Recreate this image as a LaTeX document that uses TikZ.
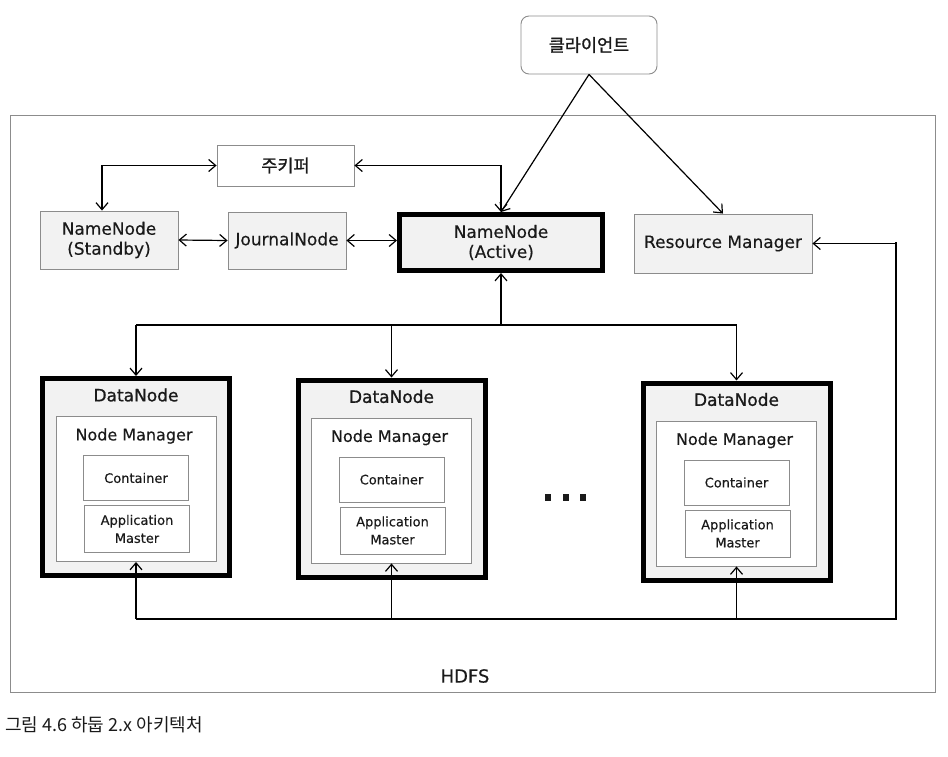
\documentclass[tikz,border=0pt]{standalone}
\usepackage{fontspec}
\setmainfont{DejaVu Sans}[FakeBold=0.3]
\newfontfamily\krfont{Noto Sans CJK KR}
\newfontfamily\krboldfont{Noto Sans CJK KR}[FakeBold=1.2]
\newfontfamily\titlefont{DejaVu Sans}[FakeBold=1.0]
\usetikzlibrary{arrows.meta}
\definecolor{boxline}{HTML}{8C8C8C}
\definecolor{boxfill}{HTML}{F2F2F2}
\definecolor{ink}{HTML}{1A1A1A}
\tikzset{
  basebox/.style={draw=boxline, line width=0.9pt, inner sep=0pt, align=center, text=ink},
  greybox/.style={basebox, fill=boxfill, font=\fontsize{17}{20}\selectfont},
  whitebox/.style={basebox, fill=white},
  heavybox/.style={draw=black, line width=5pt, fill=boxfill, inner sep=0pt, align=center, text=ink, font=\fontsize{17}{20}\selectfont},
  krtext/.style={font=\krboldfont\fontsize{17.5}{20}\selectfont},
  conn/.style={draw=black, line width=1.2pt},
  arr/.style={conn, -{Straight Barb[length=7pt,width=12pt]}},
  barr/.style={conn, {Straight Barb[length=7pt,width=12pt]}-{Straight Barb[length=7pt,width=12pt]}},
  label/.style={inner sep=0pt, text=ink},
  datanode/.pic={
    \node[heavybox, minimum width=187, minimum height=197] (-box) at (0,0) {};
    \node[label, font=\titlefont\fontsize{17}{20}\selectfont] (-title) at (0,-82) {DataNode};
    \node[whitebox, minimum width=160, minimum height=145] (-nm) at (0,12) {};
    \node[label, font=\fontsize{16}{19}\selectfont] (-nmtext) at (-2,-41) {Node Manager};
    \node[whitebox, minimum width=105, minimum height=45, font=\fontsize{13}{16}\selectfont] (-cont) at (0,1) {Container};
    \node[whitebox, minimum width=105, minimum height=47, font=\fontsize{13}{18}\selectfont] (-am) at (1,52) {Application\\Master};
  }
}
\begin{document}
\begin{tikzpicture}[x=1pt, y=-1pt]
\useasboundingbox (0,0) rectangle (948,756);

% HDFS frame
\node[draw=boxline, line width=1pt, minimum width=925, minimum height=577, inner sep=0pt] (hdfs) at (472.5,403.5) {};
\node[label, font=\fontsize{18}{20}\selectfont] (hdfslabel) at (465,676) {HDFS};

% top nodes
\node[whitebox, rounded corners=8pt, minimum width=136, minimum height=58, krtext] (client) at (589,45) {클라이언트};
\node[whitebox, minimum width=137, minimum height=41, krtext] (zk) at (285.5,165.5) {주키퍼};
\node[greybox, minimum width=138, minimum height=58] (nnsb) at (109,240) {NameNode\\(Standby)};
\node[greybox, minimum width=118, minimum height=57] (jn) at (287,240.5) {JournalNode};
\node[heavybox, minimum width=203, minimum height=56] (nna) at (501,242.5) {NameNode\\(Active)};
\node[greybox, minimum width=178, minimum height=59] (rm) at (723,243.5) {Resource Manager};

% data nodes
\pic (dn1) at (136,477) {datanode};
\pic (dn2) at (391.5,478.5) {datanode};
\pic (dn3) at (736.5,481.5) {datanode};

% dots
\fill[ink] (545,494) rectangle (551,501);
\fill[ink] (562.5,494) rectangle (568.5,501);
\fill[ink] (580,494) rectangle (586,501);

% connectors, top
\draw[arr] (client.south) -- (nna.north);
\draw[arr] (client.south) -- (rm.north);
\draw[barr] (zk.west) -| ([xshift=-7pt]nnsb.north);
\draw[barr] (zk.east) -| (nna.north);
\draw[barr] (nnsb.east) -- (jn.west);
\draw[barr] (jn.east) -- (jn.east -| nna.west);

% bus to datanodes
\coordinate (bus) at (0,325);
\draw[conn] (dn1-box.north |- bus) -- (dn3-box.north |- bus);
\draw[arr] (nna.south |- bus) -- (nna.south);
\draw[arr] (dn1-box.north |- bus) -- (dn1-box.north);
\draw[arr] (dn2-box.north |- bus) -- (dn2-box.north);
\draw[arr] (dn3-box.north |- bus) -- (dn3-box.north);

% bottom bus to resource manager
\coordinate (bot) at (0,619);
\coordinate (rmcorner) at (896,619);
\draw[conn, line width=1.8pt] (dn1-nm.south |- bot) -- (rmcorner);
\draw[draw=black, line width=2.8pt, line cap=rect] (rmcorner) -- (rmcorner |- rm.east);
\draw[arr] (rmcorner |- rm.east) -- (rm.east);
\draw[arr] (dn1-nm.south |- bot) -- (dn1-nm.south);
\draw[arr] (dn2-nm.south |- bot) -- (dn2-nm.south);
\draw[arr] (dn3-nm.south |- bot) -- (dn3-nm.south);

% caption
\node[label, anchor=west, font=\krfont\fontsize{18}{20}\selectfont] (caption) at (5,725) {그림 4.6 하둡 2.x 아키텍처};
\end{tikzpicture}
\end{document}
